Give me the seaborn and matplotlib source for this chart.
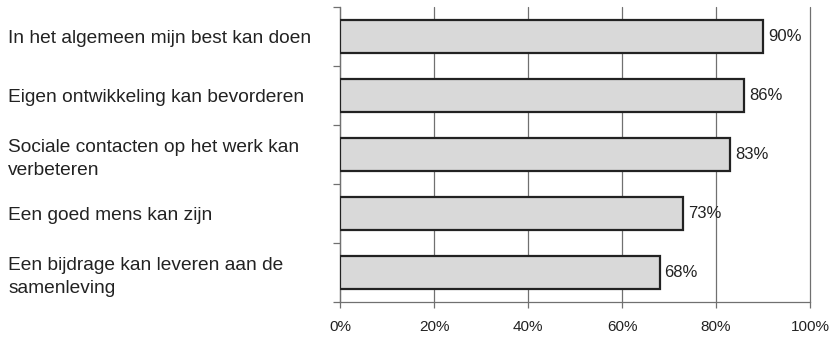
import matplotlib
matplotlib.use("Agg")
import matplotlib.pyplot as plt
from matplotlib.ticker import FixedLocator, PercentFormatter
import seaborn as sns
import pandas as pd

categories = [
    "In het algemeen mijn best kan doen",
    "Eigen ontwikkeling kan bevorderen",
    "Sociale contacten op het werk kan\nverbeteren",
    "Een goed mens kan zijn",
    "Een bijdrage kan leveren aan de\nsamenleving",
]
values = [90, 86, 83, 73, 68]
value_labels = ["90%", "86%", "83%", "73%", "68%"]
x_ticks = [0, 20, 40, 60, 80, 100]

df = pd.DataFrame({"item": categories, "pct": values})

sns.set_theme(style="white")
plt.rcParams["font.family"] = ["Liberation Sans", "DejaVu Sans"]

fig = plt.figure(figsize=(8.33, 3.4), dpi=100)
ax = fig.add_axes([340 / 833, 1 - 302 / 340, 470 / 833, 295 / 340])

sns.barplot(data=df, y="item", x="pct", orient="h", ax=ax,
            color="#d9d9d9", saturation=1, width=0.56,
            edgecolor="#222222", linewidth=1.6, zorder=3)

ax.set_xlim(0, 100)
ax.set_ylim(len(categories) - 0.5, -0.5)
ax.set_xlabel("")
ax.set_ylabel("")

# vertical grid lines at each tick
ax.xaxis.set_major_locator(FixedLocator(x_ticks))
ax.xaxis.set_major_formatter(PercentFormatter(decimals=0))
ax.grid(axis="x", color="#707070", linewidth=0.9, zorder=0)
ax.grid(axis="y", visible=False)
for gl in ax.get_xgridlines():
    gl.set_clip_on(False)

for s in ["top", "right"]:
    ax.spines[s].set_visible(False)
for s in ["left", "bottom"]:
    ax.spines[s].set_color("#707070")
    ax.spines[s].set_linewidth(0.9)

ax.tick_params(axis="x", which="major", length=4, width=0.9, color="#707070",
               direction="out", pad=9, labelsize=11, labelcolor="#222222", bottom=True)

# category labels left-aligned at the figure edge
ax.tick_params(axis="y", which="major", length=0, pad=239, labelsize=13.75,
               labelcolor="#222222")
for lab in ax.get_yticklabels():
    lab.set_horizontalalignment("left")
    lab.set_multialignment("left")
    lab.set_linespacing(1.4)

# separator ticks between categories
ax.yaxis.set_minor_locator(FixedLocator([i - 0.5 for i in range(len(categories) + 1)]))
ax.tick_params(axis="y", which="minor", length=5, width=0.9, color="#707070",
               direction="out", left=True)

for i, (v, t) in enumerate(zip(values, value_labels)):
    ax.annotate(t, xy=(v, i), xytext=(3.5, 0), textcoords="offset points",
                ha="left", va="center", fontsize=12, color="#222222", zorder=4)

fig.savefig("out.png", dpi=100)
